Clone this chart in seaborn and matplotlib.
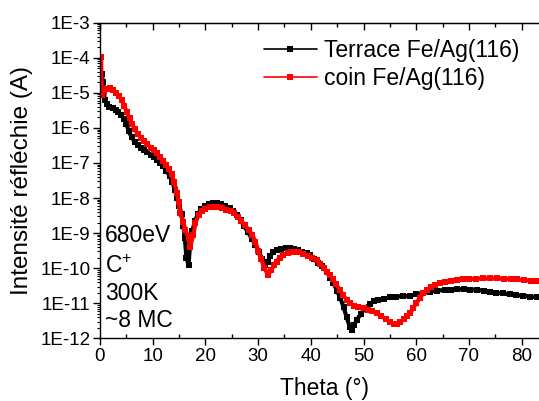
import numpy as np
import matplotlib
matplotlib.use('Agg')
import matplotlib.pyplot as plt
import seaborn as sns
from matplotlib.ticker import MultipleLocator, LogLocator, FuncFormatter, NullFormatter

# Données (theta en degrés, intensité en exposant log10)
theta_terrace = [0.3, 0.6, 0.9, 1.3, 1.8, 2.4, 3.0, 3.5, 4.0, 4.5, 5.0, 5.5, 6.0, 6.6, 7.2,
                 7.8, 8.4, 9.0, 9.6, 10.2, 10.8, 11.4, 12.0, 12.6, 13.2, 13.7, 14.2, 14.6,
                 15.0, 15.5, 15.8, 16.1, 16.4, 16.8, 17.1, 17.5, 18.0, 18.6, 19.2, 19.9,
                 20.6, 21.4, 22.2, 23.0, 23.8, 24.6, 25.3, 26.0, 26.7, 27.4, 28.1, 28.8,
                 29.5, 30.2, 30.8, 31.3, 31.8, 32.3, 32.9, 33.6, 34.4, 35.2, 36.0, 36.8,
                 37.6, 38.4, 39.2, 39.8, 40.6, 41.4, 42.2, 43.0, 43.7, 44.3, 45.0, 45.6,
                 46.2, 46.8, 47.4, 47.8, 48.2, 48.7, 49.5, 50.3, 51.2, 52.0, 52.8, 53.8,
                 55.0, 56.2, 57.5, 58.8, 60.0, 61.2, 62.6, 64.0, 65.4, 66.6, 67.8, 69.0,
                 70.2, 71.5, 72.8, 74.0, 75.2, 76.5, 77.8, 79.0, 80.3, 81.6, 82.9, 84.2, 85.5]
log_terrace = [-4.45, -4.70, -5.20, -5.33, -5.40, -5.44, -5.49, -5.54, -5.62, -5.74, -5.90,
               -6.10, -6.27, -6.40, -6.49, -6.56, -6.63, -6.70, -6.76, -6.83, -6.91, -7.00,
               -7.10, -7.22, -7.36, -7.53, -7.76, -8.00, -8.22, -8.45, -8.80, -9.15, -9.70,
               -9.91, -9.30, -8.95, -8.66, -8.45, -8.32, -8.22, -8.16, -8.13, -8.14, -8.18,
               -8.23, -8.29, -8.36, -8.48, -8.64, -8.81, -8.98, -9.16, -9.34, -9.55, -9.75,
               -9.92, -9.82, -9.65, -9.53, -9.47, -9.44, -9.42, -9.42, -9.44, -9.48, -9.53,
               -9.58, -9.63, -9.74, -9.85, -9.95, -10.10, -10.27, -10.43, -10.65, -10.86,
               -11.10, -11.40, -11.67, -11.76, -11.62, -11.48, -11.30, -11.14, -11.02,
               -10.95, -10.90, -10.87, -10.83, -10.81, -10.80, -10.79, -10.75, -10.71,
               -10.67, -10.64, -10.62, -10.61, -10.60, -10.60, -10.61, -10.62, -10.64,
               -10.67, -10.70, -10.72, -10.75, -10.77, -10.79, -10.81, -10.83, -10.85, -10.87]

theta_coin = [0.2, 0.35, 0.8, 1.3, 1.9, 2.5, 3.1, 3.6, 4.1, 4.6, 5.1, 5.6, 6.1, 6.6, 7.2, 7.8,
              8.4, 9.0, 9.6, 10.2, 10.8, 11.4, 12.0, 12.6, 13.1, 13.6, 14.1, 14.6, 14.9, 15.2,
              15.8, 16.2, 16.8, 17.1, 17.7, 18.1, 18.7, 19.3, 20.0, 20.8, 21.6, 22.4, 23.2,
              24.0, 24.8, 25.4, 26.1, 26.8, 27.5, 28.2, 28.9, 29.5, 30.0, 30.6, 31.2, 31.9,
              32.5, 33.0, 33.5, 34.1, 34.8, 35.6, 36.3, 37.0, 37.8, 38.6, 39.4, 40.2, 41.1,
              41.8, 42.5, 43.1, 43.6, 44.2, 44.8, 45.5, 46.1, 46.8, 47.4, 48.2, 49.0, 50.0,
              50.8, 51.6, 52.5, 53.3, 54.2, 55.0, 55.7, 56.3, 57.0, 57.6, 58.2, 58.8, 59.4,
              60.0, 60.7, 61.3, 62.0, 62.8, 63.6, 64.5, 65.5, 66.6, 67.7, 68.9, 70.1, 71.4,
              72.7, 74.0, 75.3, 76.6, 77.9, 79.2, 80.5, 81.7, 82.9, 84.2, 85.5]
log_coin = [-3.98, -5.06, -4.95, -4.88, -4.87, -4.92, -5.00, -5.08, -5.20, -5.37, -5.55, -5.73,
            -5.90, -6.04, -6.17, -6.28, -6.38, -6.47, -6.56, -6.64, -6.73, -6.83, -6.93, -7.05,
            -7.18, -7.32, -7.55, -7.85, -8.12, -8.43, -8.68, -8.91, -9.15, -9.39, -9.06, -8.72,
            -8.48, -8.37, -8.30, -8.26, -8.25, -8.26, -8.29, -8.33, -8.38, -8.43, -8.53, -8.65,
            -8.78, -8.90, -9.05, -9.25, -9.50, -9.75, -10.00, -10.19, -10.05, -9.92, -9.81,
            -9.70, -9.62, -9.57, -9.54, -9.53, -9.55, -9.60, -9.66, -9.72, -9.77, -9.88, -9.99,
            -10.10, -10.19, -10.32, -10.46, -10.62, -10.76, -10.90, -11.00, -11.07, -11.10,
            -11.14, -11.18, -11.23, -11.29, -11.36, -11.45, -11.53, -11.58, -11.59, -11.54,
            -11.45, -11.37, -11.29, -11.15, -11.00, -10.85, -10.72, -10.62, -10.54, -10.48,
            -10.43, -10.39, -10.36, -10.34, -10.32, -10.31, -10.30, -10.29, -10.29, -10.29,
            -10.30, -10.31, -10.32, -10.34, -10.36, -10.38, -10.40, -10.42]

labels = ['Terrace Fe/Ag(116)', 'coin Fe/Ag(116)']
couleurs = ['black', 'red']
notes = ['680eV', 'C$^{\\mathregular{+}}$', '300K', '~8 MC']

sns.set_style('ticks')
plt.rcParams['font.family'] = ['Liberation Sans', 'DejaVu Sans']
plt.rcParams['mathtext.fontset'] = 'custom'
plt.rcParams['mathtext.rm'] = 'Liberation Sans'
for k in ['text.color', 'axes.labelcolor', 'xtick.color', 'ytick.color', 'axes.edgecolor']:
    plt.rcParams[k] = 'black'

W, H = 539, 401
fig = plt.figure(figsize=(W / 100, H / 100), dpi=100)
ax = fig.add_axes([100 / W, 1 - 338.3 / H, 448 / W, (338.3 - 22.7) / H])

for th, lg, lab, c in zip([theta_terrace, theta_coin], [log_terrace, log_coin], labels, couleurs):
    sns.lineplot(x=th, y=10 ** np.array(lg), ax=ax, color=c, marker='s', markersize=4.9,
                 markeredgewidth=0, linewidth=3.0, label=lab, estimator=None, sort=False)

ax.set_yscale('log')
ax.set_xlim(0, 85)
ax.set_ylim(1e-12, 1e-3)

ax.xaxis.set_major_locator(MultipleLocator(10))
ax.xaxis.set_minor_locator(MultipleLocator(5))
ax.yaxis.set_major_locator(LogLocator(base=10, numticks=20))
ax.yaxis.set_minor_locator(LogLocator(base=10, subs=np.arange(2, 10), numticks=20))
ax.yaxis.set_minor_formatter(NullFormatter())
ax.yaxis.set_major_formatter(FuncFormatter(lambda v, _: '1E%d' % int(round(np.log10(v)))))

ax.tick_params(axis='both', which='major', labelsize=13.5, length=5, width=1, direction='out',
               color='black', pad=2)
ax.tick_params(axis='x', which='minor', length=3, width=1, direction='in')
ax.tick_params(axis='y', which='minor', length=2.5, width=0.8, direction='out')

top = ax.secondary_xaxis('top')
top.xaxis.set_major_locator(MultipleLocator(10))
top.xaxis.set_minor_locator(MultipleLocator(5))
top.tick_params(which='major', direction='in', length=5, width=1, labeltop=False)
top.tick_params(which='minor', direction='in', length=3, width=1)
top.spines['top'].set_linewidth(1)

for s in ['left', 'bottom']:
    ax.spines[s].set_linewidth(1)
ax.spines['right'].set_visible(False)

ax.set_xlabel('')
ax.set_ylabel('')
fig.text(324 / W, 1 - 389 / H, 'Theta (°)', ha='center', va='center', fontsize=16.5)
fig.text(22.5 / W, 1 - 180.5 / H, 'Intensité réfléchie (A)', rotation=90,
         ha='center', va='center', fontsize=17.5)

for txt, yp in zip(notes, [236, 266.7, 293.5, 320.5]):
    fig.text(105 / W, 1 - yp / H, txt, ha='left', va='center', fontsize=16.5)

leg = ax.legend(loc='upper left', bbox_to_anchor=(264 / W, 1 - 39 / H),
                bbox_transform=fig.transFigure, frameon=False, fontsize=16.5,
                handlelength=2.3, handletextpad=0.3, labelspacing=0.2,
                borderpad=0, borderaxespad=0, markerscale=0.9)
for ln in leg.get_lines():
    ln.set_linewidth(1.2)

plt.savefig('out.png', dpi=100)
